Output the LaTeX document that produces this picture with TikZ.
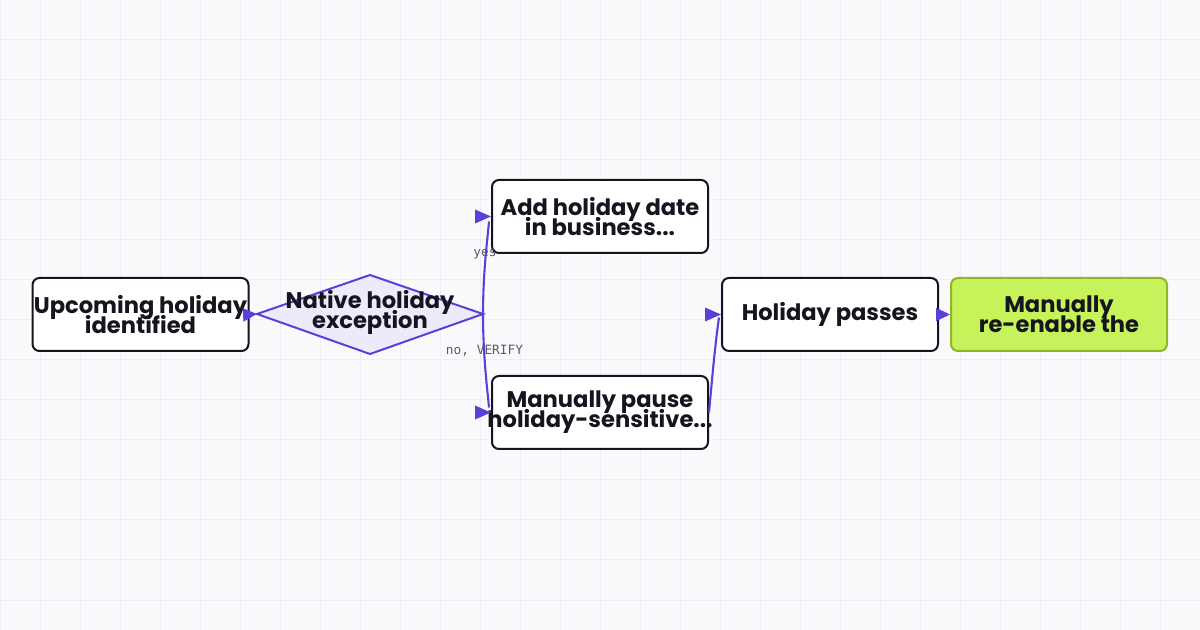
\documentclass[tikz,border=0pt]{standalone}
\usepackage{fontspec}
\setmainfont{Poppins}
\newfontfamily\monof{DejaVu Sans Mono}
\usetikzlibrary{arrows.meta,calc}
\definecolor{bg}{HTML}{FAFAFD}
\definecolor{gridc}{HTML}{EEEDF8}
\definecolor{ink}{HTML}{15151F}
\definecolor{purp}{HTML}{5B3FD8}
\definecolor{dfill}{HTML}{EEEAFB}
\definecolor{lime}{HTML}{C8F25A}
\definecolor{limeb}{HTML}{8DB62A}
\definecolor{lab}{HTML}{5A5A66}
\newcommand\myNodeFont{\fontsize{11.3}{10}\selectfont\bfseries\setlength{\lineskiplimit}{-20pt}}
\begin{document}
\begin{tikzpicture}[x=0.5pt,y=-0.5pt,
  nfont/.style={font=\myNodeFont},
  box/.style={draw=ink, line width=1pt, rounded corners=3.5pt, fill=white,
    minimum width=108pt, minimum height=36.5pt, inner xsep=-8pt, inner ysep=0pt, align=center,
    nfont, text=ink},
  endbox/.style={box, fill=lime, draw=limeb},
  dtext/.style={inner sep=0pt, align=center, nfont, text=ink},
  eline/.style={draw=purp, line width=1.05pt},
  edge/.style={eline, -{Triangle[length=7pt,width=6.5pt]}},
  ahead/.style={draw=none, fill=purp},
  elabel/.style={inner sep=0pt, font=\monof\fontsize{6.4}{7}\selectfont, text=lab},
  gridline/.style={draw=gridc, line width=0.5pt}
]
\useasboundingbox (0,0) rectangle (1200,630);
\fill[bg] (0,0) rectangle (1200,630);
\foreach \i in {0,40,...,1200} {\draw[gridline] (\i,0) -- (\i,630);}
\foreach \j in {0,40,...,600} {\draw[gridline] (0,\j) -- (1200,\j);}

% nodes
\node[box] (up) at (140.5,314.5) {Upcoming holiday\\identified};
\coordinate (dl) at (257,314);
\coordinate (dt) at (370,275);
\coordinate (dr) at (483,314);
\coordinate (db) at (370,354);
\draw[draw=purp, fill=dfill, line width=1pt] (dl) -- (dt) -- (dr) -- (db) -- cycle;
\node[dtext] (dia) at (370,312) {Native holiday\\exception};
\node[box] (add) at (600,216.5) {Add holiday date\\in business...};
\node[box] (pause) at (600,412.5) {Manually pause\\holiday-sensitive...};
\node[box] (pass) at (830,314.5) {Holiday passes};
\node[endbox] (re) at (1059,314.5) {Manually\\re-enable the};

% connectors
\draw[edge] (up.east) -- (dl);
\draw[eline] (dr) .. controls (483,270) and (488,235) .. ($(add.west)+(-2,5)$);
\fill[ahead] (add.west) -- ++(-16,-7) -- ++(0,14) -- cycle;
\draw[eline] (dr) .. controls (483,358) and (488,395) .. ($(pause.west)+(-2,-5)$);
\fill[ahead] (pause.west) -- ++(-16,-7) -- ++(0,14) -- cycle;
\draw[eline] (pause.east) .. controls (712,380) and (715,345) .. ($(pass.west)+(-2,3)$);
\fill[ahead] (pass.west) -- ++(-16,-7) -- ++(0,14) -- cycle;
\draw[edge] (pass.east) -- (re.west);

% labels
\node[elabel] (ly) at (485,254) {yes};
\node[elabel] (ln) at (484.5,351) {no, VERIFY};
\end{tikzpicture}
\end{document}
